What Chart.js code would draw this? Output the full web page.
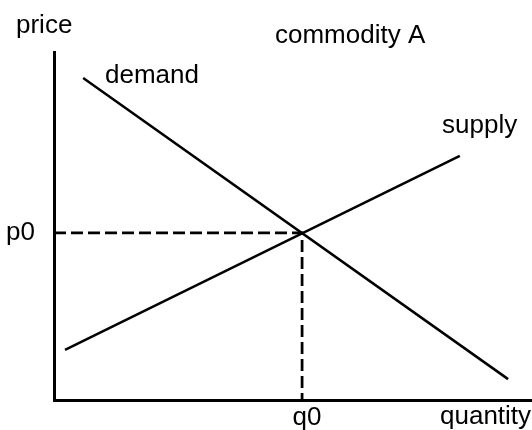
<!DOCTYPE html>
<html>
<head>
<meta charset="utf-8">
<script src="https://cdn.jsdelivr.net/npm/chart.js@4"></script>
<style>
  html, body { margin: 0; padding: 0; background: #fff; }
  canvas { display: block; }
</style>
</head>
<body>
<canvas id="chart" width="532" height="430"></canvas>
<script>
// quantity runs 0..10, price 0..8 (arbitrary units)
const demandQ = [0.61, 9.5]
const demandP = [7.40, 0.48]
const supplyQ = [0.23, 8.49]
const supplyP = [1.15, 5.61]
const q0 = 5.19
const p0 = 3.84
const xTickLabels = ['q0']
const yTickLabels = ['p0']

const FONT = 'Liberation Sans, Arial, sans-serif'

const pts = (xs, ys) => xs.map((x, i) => ({x: x, y: ys[i]}))

// free text on the plot (title, axis names, curve names)
const labels = {
  id: 'labels',
  afterDraw(chart) {
    const ctx = chart.ctx
    ctx.save()
    ctx.fillStyle = '#000'
    ctx.font = '26px ' + FONT
    ctx.textBaseline = 'alphabetic'
    ctx.textAlign = 'left'
    ctx.fillText('price', 16, 33)
    ctx.fillText('commodity A', 275, 43)
    ctx.fillText('demand', 105, 83)
    ctx.fillText('supply', 442, 133)
    ctx.fillText('quantity', 440, 424)
    ctx.restore()
  }
}

new Chart(document.getElementById('chart'), {
  type: 'scatter',
  data: {
    datasets: [
      {
        label: 'demand',
        data: pts(demandQ, demandP),
        showLine: true,
        borderColor: '#000',
        borderWidth: 2.5,
        pointRadius: 0
      },
      {
        label: 'supply',
        data: pts(supplyQ, supplyP),
        showLine: true,
        borderColor: '#000',
        borderWidth: 2.5,
        pointRadius: 0
      },
      {
        label: 'equilibrium',
        data: [{x: 0, y: p0}, {x: q0, y: p0}, {x: q0, y: 0}],
        showLine: true,
        borderColor: '#000',
        borderWidth: 2.75,
        borderDash: [12, 5],
        pointRadius: 0
      }
    ]
  },
  options: {
    responsive: false,
    animation: false,
    layout: {padding: {top: 52, left: 0, right: 0, bottom: 0}},
    plugins: {
      legend: {display: false},
      tooltip: {enabled: false}
    },
    scales: {
      x: {
        type: 'linear',
        min: 0,
        max: 10,
        grid: {display: false, drawTicks: false},
        border: {display: true, color: '#000', width: 3},
        afterBuildTicks: s => { s.ticks = [{value: q0}] },
        afterFit: s => { s.height = 30; s.paddingLeft = 0; s.paddingRight = 0 },
        ticks: {
          callback: () => xTickLabels[0],
          color: '#000',
          font: {family: FONT, size: 26},
          padding: 2,
          labelOffset: 5,
          maxRotation: 0
        }
      },
      y: {
        type: 'linear',
        min: 0,
        max: 8,
        grid: {display: false, drawTicks: false},
        border: {display: true, color: '#000', width: 3},
        afterBuildTicks: s => { s.ticks = [{value: p0}] },
        afterFit: s => { s.width = 54; s.paddingTop = 0; s.paddingBottom = 0 },
        ticks: {
          callback: () => yTickLabels[0],
          color: '#000',
          font: {family: FONT, size: 26},
          padding: 19
        }
      }
    }
  },
  plugins: [labels]
})
</script>
</body>
</html>
